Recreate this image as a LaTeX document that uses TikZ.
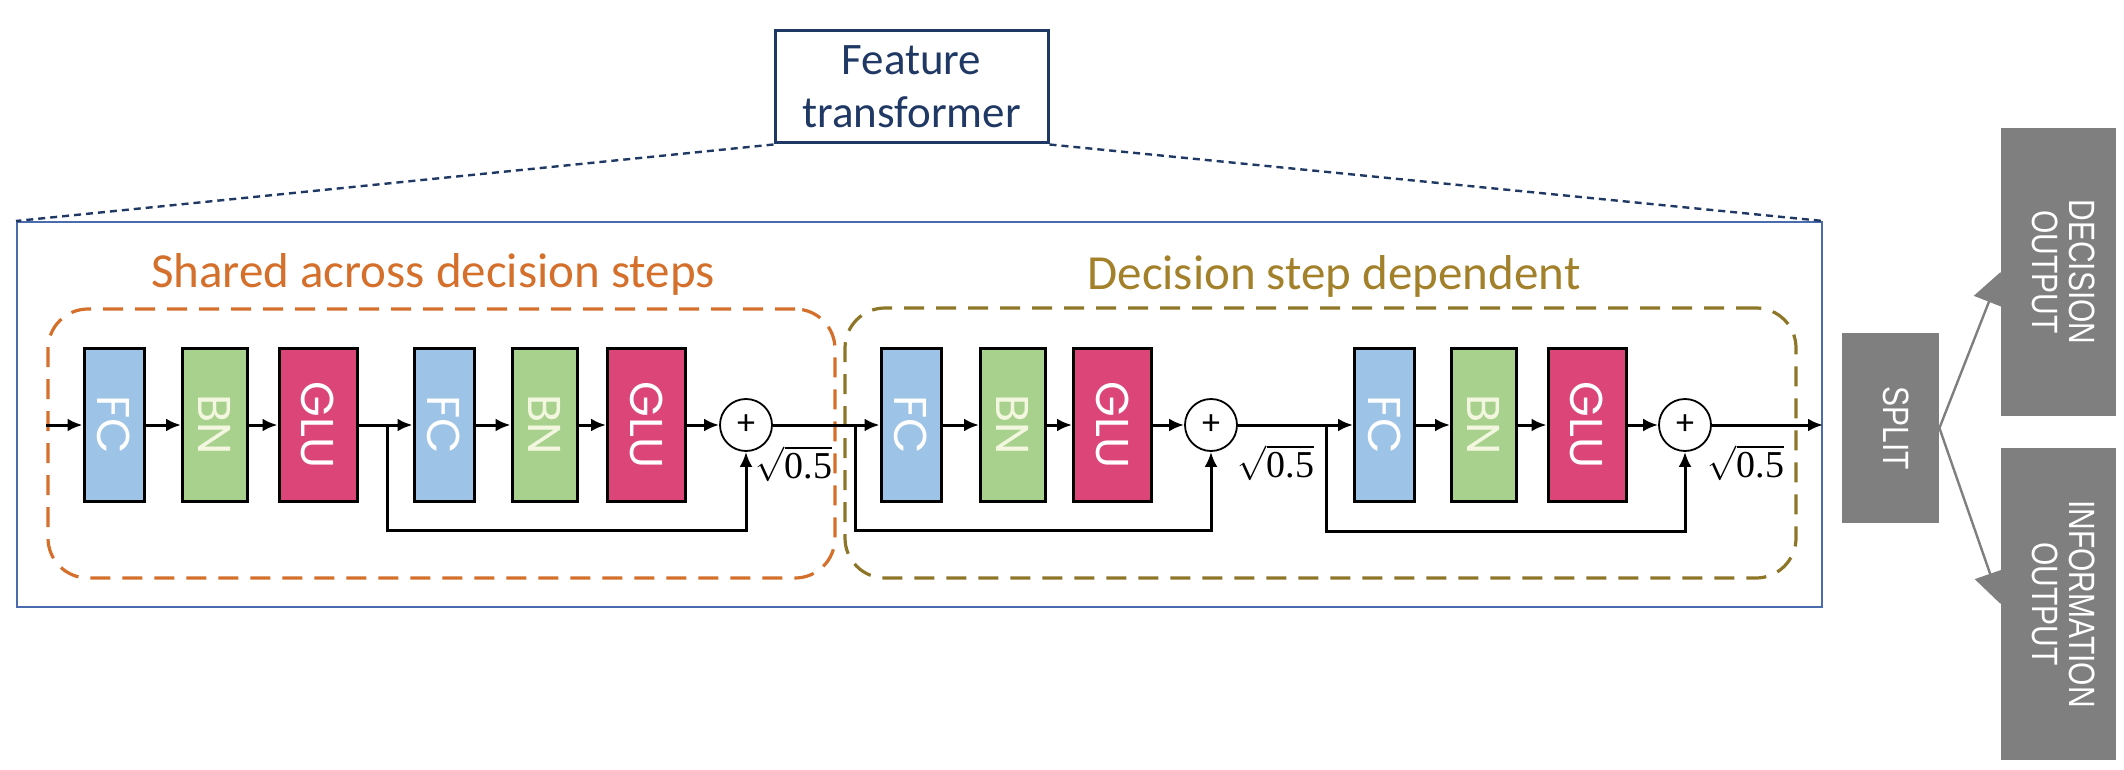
\documentclass[tikz,border=0pt]{standalone}
\usepackage{fontspec}
\usepackage{graphicx}
\setmainfont{Carlito}
\newfontfamily\blockfont{Poppins}
\newfontfamily\grayfont{Liberation Sans}
\newfontfamily\sqfont{Liberation Serif}
\usetikzlibrary{arrows.meta,calc}
\definecolor{fcblue}{HTML}{9DC3E6}
\definecolor{bngreen}{HTML}{A9D18E}
\definecolor{bntext}{HTML}{F4F7E0}
\definecolor{glured}{HTML}{DC4578}
\definecolor{orangec}{HTML}{D4702C}
\definecolor{olivedash}{HTML}{8E7628}
\definecolor{olivetext}{HTML}{A3802A}
\definecolor{navyc}{HTML}{203864}
\definecolor{outerblue}{HTML}{4A6BAE}
\definecolor{boxgray}{HTML}{7F7F7F}
\newcommand\rlab[1]{\rotatebox{-90}{#1}}
\newcommand\glab[1]{\rotatebox{-90}{\scalebox{1}[1.22]{\begin{tabular}{@{}c@{}}#1\end{tabular}}}}
\newcommand\sqhalf{$\sqrt{\hbox{\sqfont 0.5}}$}
\begin{document}
\begin{tikzpicture}[x=0.5pt,y=-0.5pt,
  blk/.style={draw=black,line width=1.5pt,minimum height=76.5pt,inner sep=0pt,
    font=\blockfont\fontsize{23}{23}\selectfont,text=white},
  fcbox/.style={blk,fill=fcblue,minimum width=30pt},
  bnbox/.style={blk,fill=bngreen,minimum width=32.5pt,text=bntext},
  glubox/.style={blk,fill=glured,minimum width=39pt},
  sumnode/.style={circle,draw=black,line width=0.9pt,minimum size=26pt,inner sep=0pt,
    font=\fontsize{18}{18}\selectfont},
  arr/.style={line width=1.5pt,-{Latex[length=7.5pt,width=6.5pt]}},
  sq/.style={font=\fontsize{19}{22}\selectfont,inner sep=0pt},
  outer/.style={draw=outerblue,line width=1pt,minimum width=902.5pt,minimum height=192.5pt,inner sep=0pt},
  ftbox/.style={draw=navyc,line width=1.5pt,minimum width=136.5pt,minimum height=56pt,
    align=center,text=navyc,font=\fontsize{22.5}{26.5}\selectfont,inner sep=0pt},
  ftdash/.style={draw=navyc,line width=1.2pt,dash pattern=on 3.5pt off 2.5pt},
  grpbox/.style={line width=1.6pt,dash pattern=on 10pt off 6pt,rounded corners=20pt,inner sep=0pt},
  title/.style={font=\fontsize{24.5}{24.5}\selectfont,anchor=base,inner sep=0pt},
  graybox/.style={fill=boxgray,inner sep=0pt,text=white,font=\grayfont\fontsize{15}{15.2}\selectfont},
  garr/.style={draw=boxgray,line width=1.2pt,-{Triangle[length=16pt,width=16pt]},fill=boxgray}
]
\useasboundingbox (0,0) rectangle (2124,770);

% frames
\node[outer] (ob) at (919.5,414.5) {};
\node[ftbox] (ft) at (911.5,87) {Feature\\transformer};
\draw[ftdash] (ft.south west) -- (ob.north west);
\draw[ftdash] (ft.south east) -- (ob.north east);

\node[grpbox,draw=orangec,minimum width=393.5pt,minimum height=134.5pt] (sh) at (441.5,443.5) {};
\node[grpbox,draw=olivedash,minimum width=475.5pt,minimum height=135pt] (dd) at (1320.5,443) {};
\node[title,text=orangec] (tsh) at (433,287) {Shared across decision steps};
\node[title,text=olivetext] (tdd) at (1334,289) {Decision step dependent};

% blocks
\node[fcbox]  (fc1)  at (114,425)   {\rlab{FC}};
\node[bnbox]  (bn1)  at (215,425)   {\rlab{BN}};
\node[glubox] (glu1) at (318,425)   {\rlab{GLU}};
\node[fcbox]  (fc2)  at (444,425)   {\rlab{FC}};
\node[bnbox]  (bn2)  at (544.5,425) {\rlab{BN}};
\node[glubox] (glu2) at (646.5,425) {\rlab{GLU}};
\node[sumnode] (c1) at (746,425) {+};
\node[fcbox]  (fc3)  at (911,425)   {\rlab{FC}};
\node[bnbox]  (bn3)  at (1013,425)  {\rlab{BN}};
\node[glubox] (glu3) at (1112.5,425){\rlab{GLU}};
\node[sumnode] (c2) at (1211,425) {+};
\node[fcbox]  (fc4)  at (1384.5,425){\rlab{FC}};
\node[bnbox]  (bn4)  at (1484,425)  {\rlab{BN}};
\node[glubox] (glu4) at (1587,425)  {\rlab{GLU}};
\node[sumnode] (c3) at (1685,425) {+};

\node[sq] (r1) at (794,464)  {\sqhalf};
\node[sq] (r2) at (1276,463) {\sqhalf};
\node[sq] (r3) at (1746,463) {\sqhalf};

% main path
\coordinate (in) at (sh.west |- fc1);
\coordinate (out) at (ob.east |- c3);
\draw[arr] (in) -- (fc1);
\draw[arr] (fc1) -- (bn1);
\draw[arr] (bn1) -- (glu1);
\draw[arr] (glu1) -- (fc2);
\draw[arr] (fc2) -- (bn2);
\draw[arr] (bn2) -- (glu2);
\draw[arr] (glu2) -- (c1);
\draw[arr] (c1) -- (fc3);
\draw[arr] (fc3) -- (bn3);
\draw[arr] (bn3) -- (glu3);
\draw[arr] (glu3) -- (c2);
\draw[arr] (c2) -- (fc4);
\draw[arr] (fc4) -- (bn4);
\draw[arr] (bn4) -- (glu4);
\draw[arr] (glu4) -- (c3);
\draw[arr] (c3) -- (out);

% residual branches
\coordinate (s1) at (387,425);  \coordinate (s1b) at (387,530);
\coordinate (s2) at (855,425);  \coordinate (s2b) at (855,530);
\coordinate (s3) at (1326,425); \coordinate (s3b) at (1326,531);
\draw[arr] (s1) -- (s1b) -| (c1.south);
\draw[arr] (s2) -- (s2b) -| (c2.south);
\draw[arr] (s3) -- (s3b) -| (c3.south);

% split and outputs
\node[graybox,minimum width=48.5pt,minimum height=95pt] (split) at (1890.5,428) {\glab{SPLIT}};
\node[graybox,minimum width=57.5pt,minimum height=144pt] (dec) at (2058.5,272) {\glab{DECISION\\OUTPUT}};
\node[graybox,minimum width=57.5pt,minimum height=156pt] (info) at (2058.5,604) {\glab{INFORMATION\\OUTPUT}};
\draw[garr] (split.east) -- (dec.west);
\draw[garr] (split.east) -- (info.west);
\end{tikzpicture}
\end{document}
